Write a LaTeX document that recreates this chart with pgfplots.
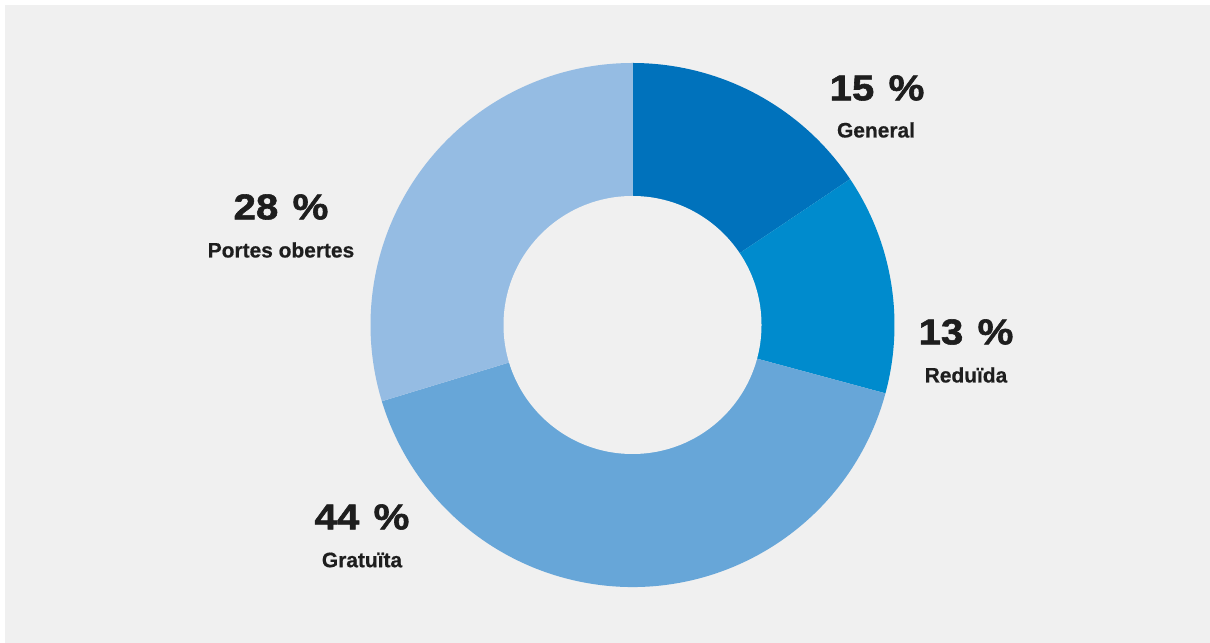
\documentclass[border=0pt]{standalone}
\usepackage{pgfplots}
\pgfplotsset{compat=1.18}
\usepackage{pgfplotstable}
\usepackage{fontspec}
\setmainfont{Liberation Sans}
\newfontfamily\heavyfont{Liberation Sans}[FakeStretch=1.12, BoldFeatures={FakeBold=1.6}]
\newfontfamily\labfont{Liberation Sans}[BoldFeatures={FakeBold=0.6}]
\definecolor{bg}{RGB}{240,240,240}
\definecolor{cGen}{RGB}{0,114,188}
\definecolor{cRed}{RGB}{0,139,205}
\definecolor{cGra}{RGB}{103,166,216}
\definecolor{cPor}{RGB}{149,188,227}
\definecolor{txt}{RGB}{30,30,30}

\pgfplotstableread{
name value
General 15.6
Reduida 13.6
Gratuita 41.1
Portes 29.7
}\piedata

\pgfplotstablegetelem{0}{value}\of\piedata \let\vA\pgfplotsretval
\pgfplotstablegetelem{1}{value}\of\piedata \let\vB\pgfplotsretval
\pgfplotstablegetelem{2}{value}\of\piedata \let\vC\pgfplotsretval
\pgfplotstablegetelem{3}{value}\of\piedata \let\vD\pgfplotsretval
\pgfmathsetmacro\aA{90}
\pgfmathsetmacro\aB{\aA-3.6*\vA}
\pgfmathsetmacro\aC{\aB-3.6*\vB}
\pgfmathsetmacro\aD{\aC-3.6*\vC}
\pgfmathsetmacro\aE{\aD-3.6*\vD}

\newcommand{\bignum}[2]{{\fontsize{36}{40}\heavyfont\bfseries #1\hspace{0.4em}#2}}
\newcommand{\smlab}[1]{{\fontsize{21}{24}\labfont\bfseries #1}}

\begin{document}
\begin{tikzpicture}
\begin{axis}[x=1bp,y=1bp,xmin=0,xmax=1210,ymin=0,ymax=643,
  hide axis, scale only axis, clip=false]
\fill[white] (axis cs:0,0) rectangle (axis cs:1210,643);
\fill[bg] (axis cs:5,0) rectangle (axis cs:1210,638);
\fill[cGen] (axis cs:632.5,318) -- ++(\aA:262bp) arc[start angle=\aA,end angle=\aB,radius=262bp] -- cycle;
\fill[cRed] (axis cs:632.5,318) -- ++(\aB:262bp) arc[start angle=\aB,end angle=\aC,radius=262bp] -- cycle;
\fill[cGra] (axis cs:632.5,318) -- ++(\aC:262bp) arc[start angle=\aC,end angle=\aD,radius=262bp] -- cycle;
\fill[cPor] (axis cs:632.5,318) -- ++(\aD:262bp) arc[start angle=\aD,end angle=\aE,radius=262bp] -- cycle;
\fill[bg] (axis cs:632.5,318) circle[radius=129bp];

\node[txt,anchor=center] at (axis cs:877,555) {\bignum{15}{\%}};
\node[txt,anchor=center] at (axis cs:876,513) {\smlab{General}};
\node[txt,anchor=center] at (axis cs:966,311) {\bignum{13}{\%}};
\node[txt,anchor=center] at (axis cs:966,268) {\smlab{Reduïda}};
\node[txt,anchor=center] at (axis cs:281,436) {\bignum{28}{\%}};
\node[txt,anchor=center] at (axis cs:281,393) {\smlab{Portes obertes}};
\node[txt,anchor=center] at (axis cs:362,126) {\bignum{44}{\%}};
\node[txt,anchor=center] at (axis cs:362,83) {\smlab{Gratuïta}};
\end{axis}
\end{tikzpicture}
\end{document}
